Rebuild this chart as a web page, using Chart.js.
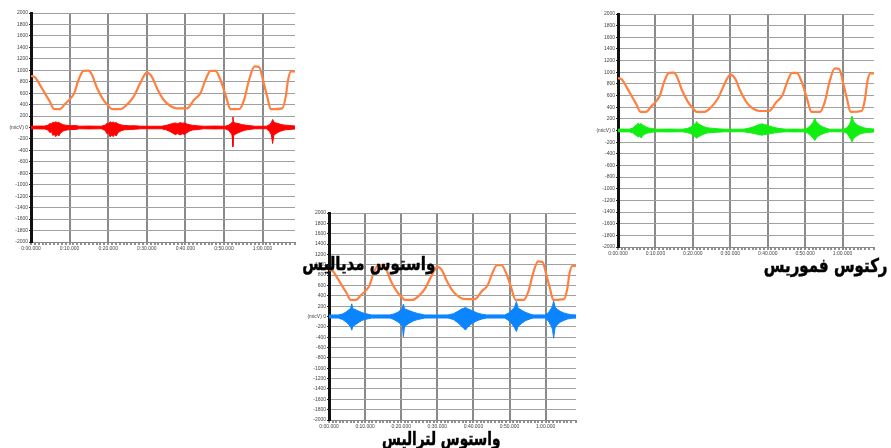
<!DOCTYPE html>
<html>
<head>
<meta charset="utf-8">
<script src="https://cdn.jsdelivr.net/npm/chart.js@4.4.1/dist/chart.umd.min.js"></script>
<style>
  body { margin: 0; background: #fff; width: 891px; height: 448px; overflow: hidden; position: relative; }
  .panel { position: absolute; }
  .lbl { position: absolute; font-family: "DejaVu Sans", sans-serif; font-weight: bold; font-size: 19px; color: #000; -webkit-text-stroke: 0.5px #000; white-space: nowrap; direction: rtl; z-index: 5; line-height: 1; transform-origin: right center; }
</style>
</head>
<body>
<div class="panel" style="left:0px;top:0px;"><canvas id="vm" width="300" height="260"></canvas></div>
<div class="panel" style="left:587px;top:0px;"><canvas id="rf" width="300" height="265"></canvas></div>
<div class="panel" style="left:298px;top:200px;"><canvas id="vl" width="290" height="238"></canvas></div>

<div class="lbl" style="right:456px;top:254px;transform:scaleX(0.79);">واستوس مدیالیس</div>
<div class="lbl" style="right:391px;top:429px;transform:scaleX(0.72);">واستوس لترالیس</div>
<div class="lbl" style="right:3px;top:256px;transform:scaleX(0.79);">رکتوس فموریس</div>

<script>
//--- Data
var xTickValues = [0, 10, 20, 30, 40, 50, 60];
var xTickLabels = ['0:00.000', '0:10.000', '0:20.000', '0:30.000', '0:40.000', '0:50.000', '1:00.000'];
var tMax = 68.4;

// orange trace, same in the three panels
var angT = [0, 1.0, 2.3, 4.1, 4.9, 6.0, 7.5, 8.8, 10.1, 11.2, 12.3, 13.6, 14.9, 15.8, 17.1, 18.8, 20.1, 21.0, 23.1, 24.8, 26.6, 28.3, 30.0, 31.3, 32.6, 34.4, 36.1, 37.8, 40.4, 42.2, 43.9, 45.2, 46.5, 47.8, 49.1, 50.4, 51.7, 53.9, 55.2, 56.5, 57.9, 59.1, 60.3, 61.2, 62.1, 65.1, 66.0, 66.6, 67.4, 68.4];
var angV = [900, 880, 745, 540, 450, 320, 320, 410, 495, 600, 830, 990, 995, 920, 690, 480, 375, 320, 320, 395, 540, 775, 960, 890, 690, 480, 375, 335, 335, 480, 600, 830, 990, 990, 830, 570, 320, 320, 480, 830, 1066, 1055, 775, 540, 320, 335, 540, 830, 980, 980];

// EMG envelopes (upper / lower), one line per burst
// vastus medialis (red)
var redT = [0, 2.0,
    3.5, 4.4, 4.9, 5.3, 5.7, 6.0, 6.4, 6.8, 7.2, 7.6, 8.0, 8.5, 9.2, 10.2, 11.5, 12.5, 15.0,
    18.2, 19.2, 19.7, 20.1, 20.5, 20.9, 21.3, 21.7, 22.1, 22.5, 22.9, 23.4, 24.2, 25.5, 27, 28.5, 31,
    33.8, 35, 36, 36.8, 37.4, 38, 38.6, 39.2, 39.8, 40.4, 41, 41.8, 43, 44.8, 47.5,
    50.3, 51.2, 51.8, 52.1, 52.3, 52.5, 52.9, 53.4, 54, 54.6, 55.3, 56, 57, 58,
    61.0, 61.8, 62.3, 62.6, 62.9, 63.4, 64, 64.6, 65.3, 66, 67, 68.4];
var redUp = [22, 25,
    25, 40, 70, 60, 95, 80, 100, 85, 90, 70, 60, 45, 40, 30, 35, 22, 25,
    22, 40, 75, 60, 100, 85, 95, 80, 85, 65, 55, 45, 35, 30, 30, 22, 22,
    22, 35, 55, 70, 80, 65, 85, 75, 80, 60, 50, 40, 30, 22, 25,
    22, 40, 70, 90, 185, 90, 80, 70, 65, 50, 45, 35, 30, 22,
    22, 50, 90, 140, 95, 80, 70, 55, 45, 40, 35, 25];
var redLo = [-22, -25,
    -25, -45, -90, -70, -140, -110, -160, -120, -150, -100, -80, -55, -45, -35, -35, -22, -25,
    -22, -50, -110, -90, -165, -130, -160, -120, -150, -90, -75, -55, -40, -35, -30, -22, -22,
    -22, -40, -70, -100, -125, -105, -130, -110, -120, -90, -65, -45, -35, -22, -25,
    -22, -50, -100, -130, -335, -140, -120, -100, -85, -65, -50, -40, -30, -22,
    -22, -70, -130, -280, -140, -110, -85, -65, -50, -40, -35, -25];

// rectus femoris (green)
var greenT = [0, 1.5,
    3.0, 4.0, 4.6, 5.0, 5.4, 5.8, 6.2, 6.6, 7.0, 7.5, 8.2, 9.0, 10, 13.5,
    17.2, 18.5, 19.5, 20.2, 20.7, 21.0, 21.4, 21.9, 22.5, 23.2, 24, 25, 26.5, 28.5, 31,
    33.5, 35, 36.3, 37.2, 37.9, 38.5, 39.1, 39.8, 40.6, 41.5, 43, 45, 47,
    49.5, 50.7, 51.5, 52.1, 52.6, 53.0, 53.5, 54.1, 54.8, 55.6, 56.5,
    60.3, 61.2, 61.8, 62.2, 62.5, 62.9, 63.4, 64, 64.7, 65.5, 66.5, 68.4];
var greenUp = [22, 24,
    22, 45, 80, 100, 125, 105, 120, 90, 80, 60, 45, 35, 22, 24,
    22, 35, 60, 95, 120, 155, 115, 100, 80, 60, 45, 40, 30, 22, 22,
    22, 40, 65, 90, 105, 115, 100, 95, 75, 55, 35, 22, 24,
    22, 45, 90, 140, 210, 150, 115, 85, 60, 40, 22,
    22, 50, 100, 160, 250, 160, 120, 90, 70, 50, 35, 25];
var greenLo = [-22, -24,
    -22, -40, -75, -90, -110, -95, -130, -85, -70, -50, -40, -30, -22, -24,
    -22, -35, -55, -90, -110, -135, -110, -95, -75, -55, -40, -35, -30, -22, -22,
    -22, -35, -50, -65, -75, -80, -70, -65, -55, -45, -30, -22, -24,
    -22, -45, -90, -130, -170, -130, -100, -75, -55, -35, -22,
    -22, -50, -110, -150, -195, -140, -110, -85, -60, -45, -35, -25];

// vastus lateralis (blue)
var blueT = [0, 1.2,
    2.6, 3.8, 4.8, 5.5, 6.0, 6.3, 6.6, 7.1, 7.7, 8.3, 9.0, 9.8, 10.8, 11.8, 14.5,
    16.9, 18, 19, 19.8, 20.3, 20.6, 20.9, 21.4, 22, 22.7, 23.5, 24.5, 25.5, 26.5, 30,
    33, 34.5, 35.7, 36.6, 37.3, 37.8, 38.4, 39.1, 40, 41, 42.3, 43.6, 46,
    48.7, 49.8, 50.7, 51.4, 51.9, 52.3, 52.9, 53.6, 54.4, 55.6, 56.5,
    59.7, 60.7, 61.5, 61.9, 62.2, 62.6, 63.2, 64, 65, 66, 67, 68.4];
var blueUp = [28, 30,
    30, 50, 90, 130, 160, 245, 150, 140, 120, 100, 80, 60, 45, 30, 30,
    30, 50, 80, 120, 150, 240, 150, 135, 120, 100, 80, 60, 45, 30, 28,
    30, 55, 100, 140, 160, 175, 150, 130, 100, 70, 45, 30, 30,
    30, 70, 130, 180, 290, 170, 140, 110, 80, 50, 30,
    30, 70, 150, 200, 300, 180, 140, 100, 70, 50, 35, 30];
var blueLo = [-28, -30,
    -30, -60, -110, -160, -200, -265, -190, -170, -140, -110, -80, -60, -45, -30, -30,
    -30, -60, -100, -140, -180, -390, -200, -170, -140, -110, -80, -60, -45, -30, -28,
    -30, -60, -120, -180, -230, -260, -210, -160, -120, -80, -50, -30, -30,
    -30, -80, -150, -220, -290, -200, -160, -120, -80, -50, -30,
    -30, -80, -180, -250, -420, -220, -160, -110, -75, -50, -35, -30];

//--- helpers
function pts(t, v) {
    var out = [];
    t.forEach(function (x, i) { out.push({ x: x, y: v[i] }); });
    return out;
}

function makeChart(id, emgT, emgUp, emgLo, color, padTop, padRight) {
    var ctx = document.getElementById(id);
    return new Chart(ctx, {
        type: 'line',
        data: {
            datasets: [{
                data: pts(angT, angV),
                borderColor: '#ff8040',
                borderWidth: 2.2,
                pointRadius: 0,
                cubicInterpolationMode: 'monotone',
                fill: false,
                order: 0
            }, {
                data: pts(emgT, emgUp),
                borderColor: color,
                backgroundColor: color,
                borderWidth: 1,
                pointRadius: 0,
                fill: '+1',
                order: 1
            }, {
                data: pts(emgT, emgLo),
                borderColor: color,
                backgroundColor: color,
                borderWidth: 1,
                pointRadius: 0,
                fill: false,
                order: 1
            }]
        },
        options: {
            responsive: false,
            animation: false,
            events: [],
            layout: { padding: { top: padTop, right: padRight, left: 0, bottom: 0 } },
            plugins: { legend: { display: false }, tooltip: { enabled: false } },
            scales: {
                x: {
                    type: 'linear',
                    min: 0,
                    max: tMax,
                    afterFit: function (s) { s.height = 18; },
                    border: { color: '#888', width: 1 },
                    grid: {
                        color: function (c) {
                            if (!c.tick) return 'rgba(0,0,0,0)';
                            var v = c.tick.value;
                            return (Math.abs(v - Math.round(v)) < 0.01 && xTickValues.indexOf(Math.round(v)) >= 0) ? '#8a8a8a' : 'rgba(0,0,0,0)';
                        },
                        lineWidth: 2,
                        tickColor: '#222',
                        tickLength: 3,
                        tickWidth: 1
                    },
                    ticks: {
                        stepSize: 1,
                        autoSkip: false,
                        maxTicksLimit: 100,
                        maxRotation: 0,
                        padding: 1,
                        color: '#444',
                        font: { family: 'Arial, "Liberation Sans", sans-serif', size: 5 },
                        callback: function (value) {
                            var i = xTickValues.indexOf(value);
                            return i >= 0 ? xTickLabels[i] : '';
                        }
                    }
                },
                y: {
                    min: -2000,
                    max: 2000,
                    afterFit: function (s) { s.width = 31; },
                    border: { color: '#111', width: 3 },
                    grid: {
                        color: '#a0a0a0',
                        lineWidth: 1,
                        tickColor: '#222',
                        tickLength: 2
                    },
                    ticks: {
                        stepSize: 200,
                        autoSkip: false,
                        maxTicksLimit: 30,
                        padding: 1,
                        color: '#444',
                        font: { family: 'Arial, "Liberation Sans", sans-serif', size: 5 },
                        callback: function (value) { return value === 0 ? '(micV) 0' : String(value); }
                    }
                }
            }
        }
    });
}

var chartVM = makeChart('vm', redT, redUp, redLo, '#ff0000', 13, 5);
var chartRF = makeChart('rf', greenT, greenUp, greenLo, '#11ee11', 14, 13);
var chartVL = makeChart('vl', blueT, blueUp, blueLo, '#0a84ff', 13, 12);
console.log('charts ready');
</script>
</body>
</html>
